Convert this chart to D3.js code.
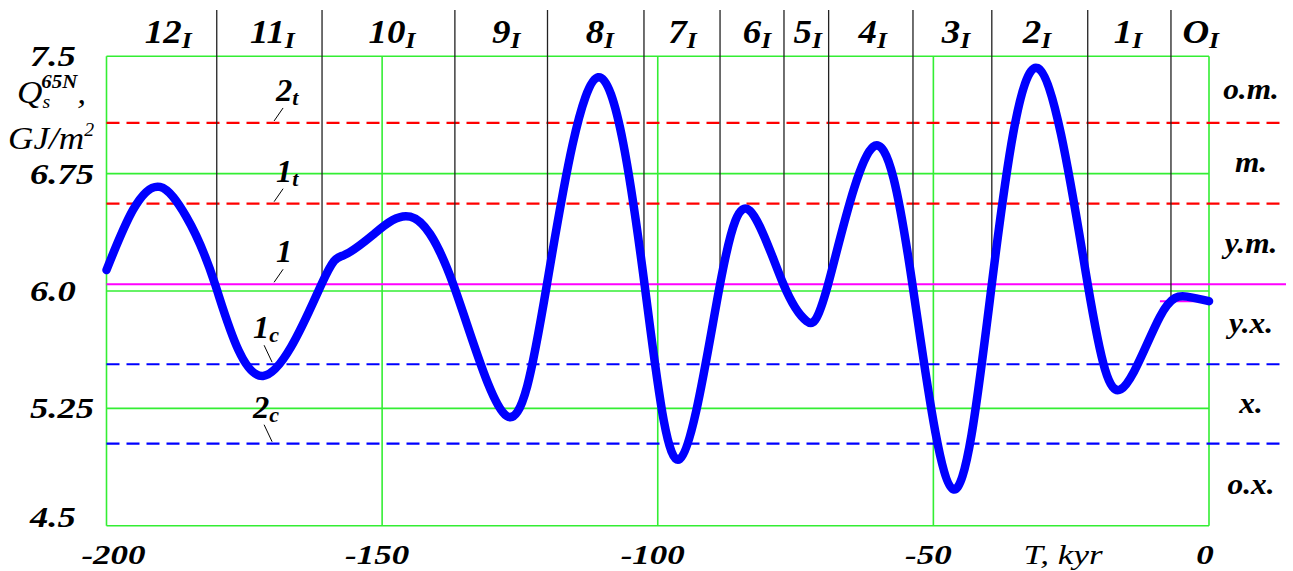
<!DOCTYPE html>
<html><head><meta charset="utf-8">
<script src="https://cdn.jsdelivr.net/npm/d3@7"></script>
<style>
body{margin:0;background:#fff;}
svg{display:block;}
text{font-family:"Liberation Serif","Times New Roman",serif;fill:#000;}
</style>
</head><body>
<svg id="chart" width="1293" height="571"></svg>
<script>
// ---- data ----
const timeKyr = [-200,-195.2,-190.3,-185.5,-180.3,-171.6,-161.0,-157.0,-151.7,-144.9,-137.1,-127.4,-120.1,-110.8,-102.4,-96.0,-88.7,-83.3,-77.2,-73.0,-69.1,-60.9,-53.8,-46.4,-39.4,-31.1,-22.0,-16.0,-8.9,-4.0,0];
const insolation = [6.134,6.518,6.665,6.473,6.043,5.457,6.043,6.228,6.358,6.475,6.043,5.201,6.043,7.366,6.043,4.926,6.043,6.513,6.043,5.808,6.043,6.922,6.043,4.733,6.043,7.425,6.043,5.372,5.836,5.964,5.935];

const xTicks = [-200,-150,-100,-50,0];
const xTickLabels = ["-200","-150","-100","-50","0"];
const yTicks = [7.5,6.75,6.0,5.25,4.5];
const yTickLabels = ["7.5","6.75","6.0","5.25","4.5"];

const levelValues = [7.074,6.558,6.043,5.532,5.024];
const levelMain = ["2","1","1","1","2"];
const levelSub = ["t","t","","c","c"];
const levelKind = ["warm","warm","mean","cold","cold"];

const boundaryT = [-180.0,-160.9,-136.8,-120.0,-102.5,-88.7,-77.1,-69.0,-53.7,-39.4,-22.0,-6.9];
const presentLevel = 5.935;

const epochNames = ["12","11","10","9","8","7","6","5","4","3","2","1","O"];
const epochT = [-188.8,-169.9,-148.2,-127.5,-110.5,-95.5,-82.0,-72.8,-61.0,-45.9,-31.2,-14.7,-1.5];

const zoneNames = ["o.m.","m.","y.m.","y.x.","x.","o.x."];

// ---- scales ----
const svg = d3.select("#chart");
const x = d3.scaleLinear().domain([-200,0]).range([106.5,1209]);
const y = d3.scaleLinear().domain([4.5,7.5]).range([525.7,56.3]);
const GREEN = "#33ee33";

// grid
const grid = svg.append("g");
grid.selectAll("line.h").data(yTicks).join("line")
  .attr("x1",x(-200)).attr("x2",x(0))
  .attr("y1",d=>y(d)).attr("y2",d=>y(d))
  .attr("stroke",GREEN).attr("stroke-width",1.6);
grid.selectAll("line.v").data(xTicks).join("line")
  .attr("x1",d=>x(d)).attr("x2",d=>x(d))
  .attr("y1",y(7.5)).attr("y2",y(4.5))
  .attr("stroke",GREEN).attr("stroke-width",1.6);

// level lines
const levelColor = k => k==="warm" ? "#ff0000" : k==="cold" ? "#0000ff" : "#ff00ff";
svg.append("g").selectAll("line").data(levelValues).join("line")
  .attr("x1",x(-200)).attr("x2",1286)
  .attr("y1",d=>y(d)).attr("y2",d=>y(d))
  .attr("stroke",(d,i)=>levelColor(levelKind[i]))
  .attr("stroke-width",2.2)
  .attr("stroke-dasharray",(d,i)=>levelKind[i]==="mean"?null:"13,7");

// present short level
svg.append("line")
  .attr("x1",x(-8.9)).attr("x2",x(0))
  .attr("y1",y(presentLevel)).attr("y2",y(presentLevel))
  .attr("stroke","#ff00ff").attr("stroke-width",2);

// boundaries
svg.append("g").selectAll("line").data(boundaryT).join("line")
  .attr("x1",d=>x(d)).attr("x2",d=>x(d))
  .attr("y1",10)
  .attr("y2",(d,i)=> i===boundaryT.length-1 ? y(presentLevel) : y(levelValues[2]))
  .attr("stroke","#222").attr("stroke-width",1.3);

// curve
const pts = timeKyr.map((t,i)=>[t,insolation[i]]);
svg.append("path").datum(pts)
  .attr("fill","none").attr("stroke","#0000ff").attr("stroke-width",8.5)
  .attr("stroke-linejoin","round").attr("stroke-linecap","round")
  .attr("d",d3.line().x(d=>x(d[0])).y(d=>y(d[1])).curve(d3.curveNatural));

// helper for stretched text
function stext(g, px, py, size, sx, anchor, weight, style){
  return g.append("text")
    .attr("transform",`translate(${px},${py}) scale(${sx},1)`)
    .attr("text-anchor",anchor)
    .attr("font-size",size)
    .attr("font-weight",weight)
    .attr("font-style",style);
}

// y tick labels
const yt = svg.append("g");
yTicks.forEach((v,i)=>{
  stext(yt, 30, y(v)+ (i===yTicks.length-1 ? 1 : 10), 30, 1.22, "start", "bold", "italic").text(yTickLabels[i]);
});
// x tick labels
const xt = svg.append("g");
xTicks.forEach((v,i)=>{
  stext(xt, x(v)+ (i===0?7:(i===xTicks.length-1?-4:-5)), 564, 28, 1.25, "middle", "bold", "italic").text(xTickLabels[i]);
});
// x title
stext(svg, 1063, 564, 28, 1.25, "middle", "normal", "italic").text("T, kyr");

// y title
const yl = svg.append("g");
const q = stext(yl, 17, 103, 32, 1.1, "start", "normal", "italic");
q.append("tspan").text("Q");
q.append("tspan").attr("font-size",18).attr("dy",5).text("s");
q.append("tspan").attr("font-size",19).attr("font-weight","bold").attr("dx",-8).attr("dy",-20).text("65N");
q.append("tspan").attr("dy",15).text(",");
const gj = stext(yl, 8, 149, 32, 1.1, "start", "normal", "italic");
gj.append("tspan").text("GJ/m");
gj.append("tspan").attr("font-size",18).attr("dy",-13).text("2");

// epoch labels
const el = svg.append("g");
epochNames.forEach((n,i)=>{
  const t = stext(el, x(epochT[i]), 43, 33, 1.12, "middle", "bold", "italic");
  t.append("tspan").text(n);
  t.append("tspan").attr("font-size",23).attr("dy",5).text("I");
});

// zone labels
const bands = [7.5, ...levelValues, 4.5];
const zl = svg.append("g");
zoneNames.forEach((n,i)=>{
  const mid = (bands[i]+bands[i+1])/2;
  stext(zl, 1251, y(mid)+9, 29, 1.08, "middle", "bold", "italic").text(n);
});

// level annotations with leader lines
const la = svg.append("g");
const annT = -169.6;
levelValues.forEach((v,i)=>{
  const ly = y(v);
  const lx = x(annT);
  const above = levelKind[i] !== "cold";
  if(above){
    la.append("line").attr("x1",lx).attr("y1",ly-2).attr("x2",lx+9).attr("y2",ly-15)
      .attr("stroke","#000").attr("stroke-width",1);
    const t = stext(la, lx+2, ly-22, 31, 1.05, "start", "bold", "italic");
    t.append("tspan").text(levelMain[i]);
    if(levelSub[i]) t.append("tspan").attr("font-size",21).attr("dy",4).text(levelSub[i]);
  } else {
    la.append("line").attr("x1",lx-10).attr("y1",ly-19).attr("x2",lx-2).attr("y2",ly-2)
      .attr("stroke","#000").attr("stroke-width",1);
    const t = stext(la, lx-21, ly-26, 31, 1.05, "start", "bold", "italic");
    t.append("tspan").text(levelMain[i]);
    t.append("tspan").attr("font-size",21).attr("dy",4).text(levelSub[i]);
  }
});
</script>
</body></html>
